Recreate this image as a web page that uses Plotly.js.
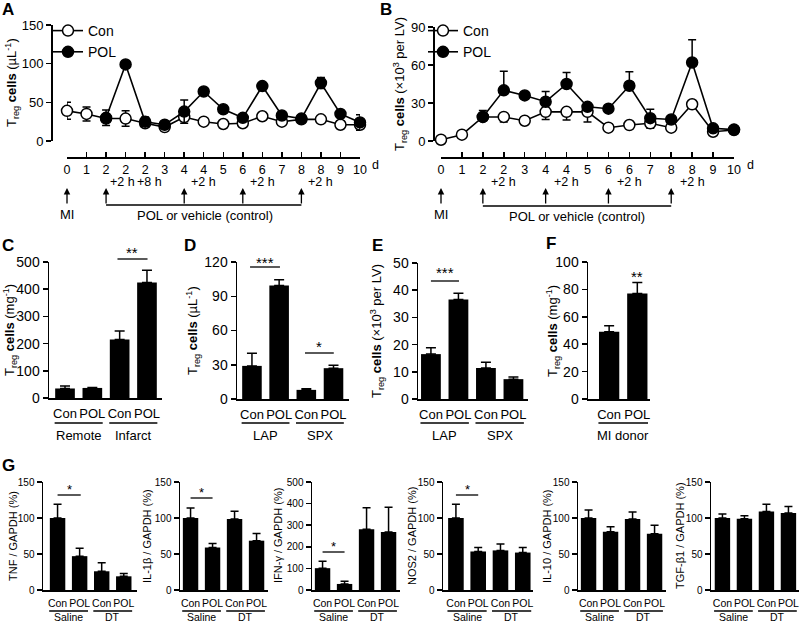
<!DOCTYPE html>
<html><head><meta charset="utf-8">
<script src="https://cdn.plot.ly/plotly-3.0.1.min.js"></script>
<style>html,body{margin:0;padding:0;background:#fff}#chart{width:800px;height:623px}</style>
</head><body><div id="chart"></div>
<script>
// ---------------- data ----------------
// Panel A (Treg cells per uL blood)
const aTicks = ["0","1","2","2","2","3","4","4","5","6","6","7","8","8","9","10"];
const aHours = ["","","","+2 h","+8 h","","","+2 h","","","+2 h","","","+2 h","",""];
const aCon    = [39,35,29,29,23,18,31,25,22,23,32,25,28,28,21,21];
const aConErr = [11,9,4,10,5,3,3,2,2,2,2,2,2,2,2,3];
const aPol    = [null,null,30,99,25,21,38,64,41,30,71,33,29,75,35,24];
const aPolErr = [0,0,10,3,6,3,15,4,4,3,3,3,3,7,3,10];
const aInject = [2,6,9,12];

// Panel B (Treg cells x10^3 per LV)
const bTicks = ["0","1","2","2","3","4","4","5","6","6","7","8","8","9","10"];
const bHours = ["","","","+2 h","","","+2 h","","","+2 h","","","+2 h","",""];
const bCon    = [1,5,19,19,16,23,23,23,10.5,12.6,14,10.5,29,7.3,8.7];
const bConErr = [0.5,2,2,4,2,6,6.5,8,2,2,4,2,3,2,1];
const bPol    = [null,null,19,40,36,31,45,27,25.5,43.6,18,17,62,10,9];
const bPolErr = [0,0,5,15,2,8,9,2,2,11,7,2,18,2,1];
const bInject = [2,5,8,11];

// Bar panels
const cats = ["Con","POL","Con","POL"];
const cVals = [35,37,215,425];   const cErr = [9,2,31,45];
const dVals = [29,99.5,8,27];    const dErr = [11,5,1,2.5];
const eVals = [16.5,36.6,11.4,7.3]; const eErr = [2.3,2.3,2.1,0.8];
const fCats = ["Con","POL"];
const fVals = [49,77];           const fErr = [4.4,8];

// Panel G (mRNA / GAPDH %)
const gTitles = ["TNF / GAPDH (%)","IL-1β / GAPDH (%)","IFN-γ / GAPDH (%)","NOS2 / GAPDH (%)","IL-10 / GAPDH (%)","TGF-β1 / GAPDH (%)"];
const tnfVals  = [100,47,26,19];     const tnfErr  = [19,11,12,4];
const il1bVals = [100,59,98.5,68.5]; const il1bErr = [14,5.5,11,10];
const ifngVals = [101,28,281,268];   const ifngErr = [32,13,100,115];
const nos2Vals = [100,53.5,55,52];   const nos2Err = [19,5.5,9,7];
const il10Vals = [100,81,98.5,78];   const il10Err = [11,7,10,12];
const tgfVals  = [100,99,109,107];   const tgfErr  = [5.5,4,10,9];

// ---------------- helpers ----------------
const W = 800, H = 623;
const X = p => p / W;
const Y = p => 1 - p / H;
const FONT = "Liberation Sans, Arial, Helvetica, sans-serif";

const layout = {
  width: W, height: H, margin: {l:0, r:0, t:0, b:0},
  paper_bgcolor: "white", plot_bgcolor: "rgba(0,0,0,0)",
  font: {family: FONT, color: "black"},
  hovermode: false, showlegend: true,
  shapes: [], annotations: []
};
const data = [];

function yAx(top, bottom, range, dtick, fs, pos, xId) {
  const a = {domain: [Y(bottom), Y(top)], range: range, dtick: dtick, tick0: 0,
    showgrid: false, zeroline: false, showline: true, linewidth: 1.5, linecolor: "black",
    ticks: "outside", ticklen: 5, tickwidth: 1.5, tickcolor: "black",
    tickfont: {size: fs, family: FONT, color: "black"}, fixedrange: true};
  if (pos !== null) { a.anchor = "free"; a.position = X(pos); } else { a.anchor = xId; }
  return a;
}
function xBar(left, right, range, labels, fs, yId) {
  return {domain: [X(left), X(right)], range: range,
    tickvals: labels.map((_, i) => i), ticktext: labels, tickangle: 0,
    showgrid: false, zeroline: false, showline: true, linewidth: 1.5, linecolor: "black",
    ticks: "outside", ticklen: 3, tickcolor: "rgba(0,0,0,0)",
    tickfont: {size: fs, family: FONT, color: "black"}, anchor: yId, fixedrange: true};
}
function xLine(left, right, n, labels) {
  return {domain: [X(left), X(right)], range: [0, n], anchor: "free", position: Y(157),
    tickvals: labels.map((_, i) => i), ticktext: labels, tickangle: 0, showgrid: false, zeroline: false,
    showline: true, linewidth: 1.5, linecolor: "black", ticks: "inside", ticklen: 5, tickwidth: 1.5,
    tickcolor: "black", tickfont: {size: 12.5, family: FONT, color: "black"}, fixedrange: true};
}
function txt(x, y, text, size, extra) {
  layout.annotations.push(Object.assign({xref: "paper", yref: "paper", x: X(x), y: Y(y), text: text,
    showarrow: false, font: {size: size, family: FONT, color: "black"}, xanchor: "center", yanchor: "middle"}, extra || {}));
}
function txtD(xref, xv, y, text, size, xshift) {
  layout.annotations.push({xref: xref, yref: "paper", x: xv, y: Y(y), text: text, showarrow: false,
    font: {size: size, family: FONT, color: "black"}, xanchor: "center", yanchor: "middle", xshift: xshift || 0});
}
function lineD(xref, x0, x1, y, w) {
  layout.shapes.push({type: "line", xref: xref, yref: "paper", x0: x0, x1: x1, y0: Y(y), y1: Y(y),
    line: {color: "black", width: w || 1.3}});
}
function arrowD(xref, xv, yHead, len) {
  layout.annotations.push({xref: xref, yref: "paper", x: xv, y: Y(yHead), text: "", showarrow: true,
    ax: 0, ay: len, arrowhead: 2, arrowsize: 1, arrowwidth: 1.3, arrowcolor: "black"});
}
function hourLabels(xref, hours) {
  hours.forEach((h, i) => {
    if (!h) return;
    let sh = 0;
    if (hours[i + 1]) sh = -3;       // two neighbouring labels: push apart
    else if (hours[i - 1]) sh = 4;
    txtD(xref, i, 182, h, 12.5, sh);
  });
}
function lineTrace(ys, up, down, filled, name, xa, ya, leg) {
  return {type: "scatter", mode: "lines+markers", x: ys.map((_, i) => i), y: ys, name: name,
    xaxis: xa, yaxis: ya, legend: leg, cliponaxis: false,
    line: {color: "black", width: 1.6},
    marker: {symbol: "circle", size: 11, color: filled ? "black" : "white", line: {color: "black", width: 1.5}},
    error_y: {type: "data", symmetric: false, array: up, arrayminus: down, color: "black", thickness: 1.5, width: 4}};
}
function barTrace(vals, errs, xa, ya, width, cap) {
  return {type: "bar", x: vals.map((_, i) => i), y: vals, width: width, xaxis: xa, yaxis: ya, showlegend: false,
    marker: {color: "black", line: {width: 0}},
    error_y: {type: "data", symmetric: false, array: errs, arrayminus: vals.map(() => 0),
      color: "black", thickness: 1.5, width: cap}};
}
const legendBase = {xanchor: "left", yanchor: "top", bgcolor: "rgba(0,0,0,0)",
  font: {size: 14, family: FONT, color: "black"}, itemwidth: 30, tracegroupgap: 0, traceorder: "normal"};

// ---------------- Panel A ----------------
layout.xaxis = xLine(67, 360, 15, aTicks);
layout.yaxis = yAx(25, 141, [0, 150], 50, 13, 51);
data.push(lineTrace(aCon, aConErr, aConErr, false, "Con", "x", "y", "legend"));
data.push(lineTrace(aPol, aPolErr, aPolErr, true, "POL", "x", "y", "legend"));
layout.legend = Object.assign({x: X(48), y: Y(15)}, legendBase);
hourLabels("x", aHours);
txt(375, 165, "d", 12.5);
arrowD("x", 0, 188, 17);
txt(67, 214, "MI", 13);
aInject.forEach(i => arrowD("x", i, 188, 17));
lineD("x", aInject[0], aInject[aInject.length - 1], 205);
txt(205, 216, "POL or vehicle (control)", 13);

// ---------------- Panel B ----------------
layout.xaxis2 = xLine(441, 734, 14, bTicks);
layout.yaxis2 = yAx(27, 141, [0, 90], 30, 13, 433);
data.push(lineTrace(bCon, bCon.map(() => 0), bConErr, false, "Con", "x2", "y2", "legend2"));
data.push(lineTrace(bPol, bPolErr, bPol.map(() => 0), true, "POL", "x2", "y2", "legend2"));
layout.legend2 = Object.assign({x: X(423), y: Y(15)}, legendBase);
hourLabels("x2", bHours);
txt(750, 165, "d", 12.5);
arrowD("x2", 0, 188, 17);
txt(441, 214, "MI", 13);
bInject.forEach(i => arrowD("x2", i, 188, 17));
lineD("x2", bInject[0], bInject[bInject.length - 1], 206);
txt(577, 217, "POL or vehicle (control)", 13);

// ---------------- Panels C-F ----------------
const treg = "T<sub>reg</sub> <b>cells</b> ";
layout.xaxis3 = xBar(49, 162, [-0.586, 3.55], cats, 13, "y3");
layout.yaxis3 = yAx(262, 398, [0, 500], 100, 14, null, "x3");
data.push(barTrace(cVals, cErr, "x3", "y3", 0.72, 5));
layout.xaxis4 = xBar(237, 349, [-0.55, 3.57], cats, 13, "y4");
layout.yaxis4 = yAx(262, 399, [0, 120], 30, 14, null, "x4");
data.push(barTrace(dVals, dErr, "x4", "y4", 0.72, 5));
layout.xaxis5 = xBar(418, 528, [-0.47, 3.53], cats, 13, "y5");
layout.yaxis5 = yAx(263, 399, [0, 50], 10, 14, null, "x5");
data.push(barTrace(eVals, eErr, "x5", "y5", 0.72, 5));
layout.xaxis6 = xBar(588, 650, [-0.75, 1.45], fCats, 13, "y6");
layout.yaxis6 = yAx(262, 399, [0, 100], 20, 14, null, "x6");
data.push(barTrace(fVals, fErr, "x6", "y6", 0.72, 5));

function groups(xref, names, yLine, yText, fs) {
  names.forEach((n, k) => {
    lineD(xref, 2 * k - 0.38, 2 * k + 1.38, yLine, 1.3);
    txtD(xref, 2 * k + 0.5, yText, n, fs);
  });
}
groups("x3", ["Remote", "Infarct"], 423, 435, 13);
groups("x4", ["LAP", "SPX"], 423, 435, 13);
groups("x5", ["LAP", "SPX"], 423, 435, 13);
groups("x6", ["MI donor"], 423, 435, 13);

txt(10, 330, treg + "(mg<sup>-1</sup>)", 13, {textangle: -90});
txt(193, 331, treg + "(µL<sup>-1</sup>)", 13, {textangle: -90});
txt(377, 331, treg + "(×10<sup>3</sup> per LV)", 13, {textangle: -90});
txt(553, 331, treg + "(mg<sup>-1</sup>)", 13, {textangle: -90});
txt(12, 83, treg + "(µL<sup>-1</sup>)", 13, {textangle: -90});
txt(400, 84, treg + "(×10<sup>3</sup> per LV)", 13, {textangle: -90});

// significance
lineD("x3", 1.92, 3.02, 259); txtD("x3", 2.47, 252, "**", 15);
lineD("x4", -0.07, 1.03, 267); txtD("x4", 0.48, 262, "***", 15);
lineD("x4", 1.95, 3.01, 353); txtD("x4", 2.45, 346, "*", 15);
lineD("x5", 0, 1.02, 281); txtD("x5", 0.5, 272, "***", 15);
txtD("x6", 1, 276, "**", 15);

// ---------------- Panel G ----------------
const gSpecs = [
  {v: tnfVals,  e: tnfErr,  l: 43,  r: 137, rg: [-0.66, 3.6],  ymax: 150, dt: 50,  tx: 13},
  {v: il1bVals, e: il1bErr, l: 180, r: 268, rg: [-0.48, 3.52], ymax: 150, dt: 50,  tx: 147},
  {v: ifngVals, e: ifngErr, l: 312, r: 400, rg: [-0.48, 3.52], ymax: 500, dt: 100, tx: 278},
  {v: nos2Vals, e: nos2Err, l: 443, r: 533, rg: [-0.58, 3.46], ymax: 150, dt: 50,  tx: 412},
  {v: il10Vals, e: il10Err, l: 578, r: 666, rg: [-0.48, 3.52], ymax: 150, dt: 50,  tx: 547},
  {v: tgfVals,  e: tgfErr,  l: 711, r: 799, rg: [-0.52, 3.48], ymax: 150, dt: 50,  tx: 680}
];
gSpecs.forEach((s, k) => {
  const n = 7 + k, xa = "x" + n, ya = "y" + n;
  layout["xaxis" + n] = xBar(s.l, s.r, s.rg, cats, 10.5, ya);
  layout["yaxis" + n] = yAx(482, 590, [0, s.ymax], s.dt, 10, null, xa);
  data.push(barTrace(s.v, s.e, xa, ya, 0.7, 4));
  groups(xa, ["Saline", "DT"], 611, 617, 10.5);
  txt(s.tx, 536, gTitles[k], 11, {textangle: -90});
});
lineD("x7", 0, 1.05, 495);  txtD("x7", 0.55, 489, "*", 13);
lineD("x8", 0, 1, 498);     txtD("x8", 0.5, 492, "*", 13);
lineD("x9", 0, 1, 552);     txtD("x9", 0.5, 546, "*", 13);
lineD("x10", 0, 1, 495);    txtD("x10", 0.5, 489, "*", 13);

// panel letters
[["A", 8, 9], ["B", 386, 9], ["C", 8, 245], ["D", 190, 245], ["E", 377, 245], ["F", 551, 243], ["G", 8, 465]]
  .forEach(p => txt(p[1], p[2], "<b>" + p[0] + "</b>", 17));

Plotly.newPlot("chart", data, layout, {staticPlot: true, displayModeBar: false});
</script></body></html>
